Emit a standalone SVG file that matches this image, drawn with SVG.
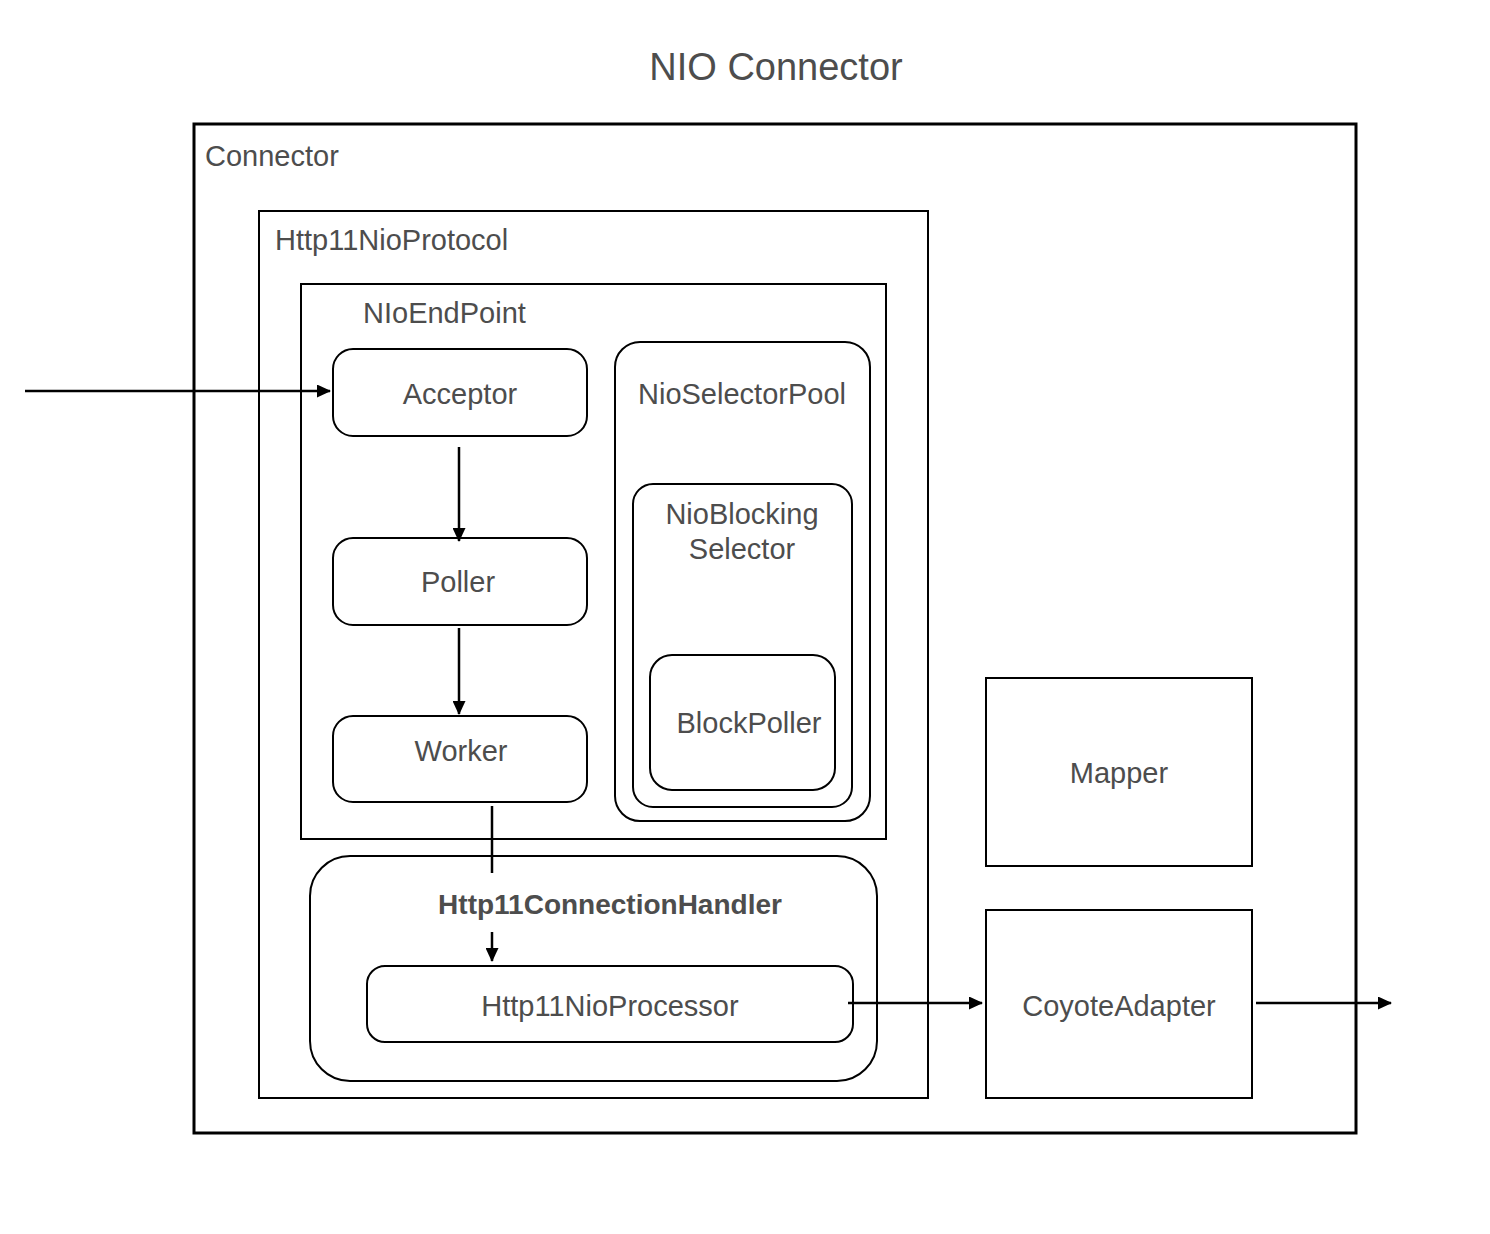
<svg xmlns="http://www.w3.org/2000/svg" width="1490" height="1234" viewBox="0 0 1490 1234">
<defs>
<marker id="arr" markerWidth="14" markerHeight="13" refX="13" refY="6.5" orient="auto" markerUnits="userSpaceOnUse" viewBox="0 0 14 13">
<path d="M0,0 L14,6.5 L0,13 Z" fill="#000"/>
</marker>
<style>
.box{fill:#fff;stroke:#000;stroke-width:2}
.thick{fill:#fff;stroke:#000;stroke-width:3}
.t{font-family:"Liberation Sans",Arial,sans-serif;font-size:29px;fill:#4d4d4d}
.c{text-anchor:middle}
.b{font-weight:bold;font-size:28px}
.edge{fill:none;stroke:#000;stroke-width:2.5}
</style>
</defs>
<rect x="0" y="0" width="1490" height="1234" fill="#fff"/>
<text class="t c" x="776" y="80" style="font-size:38px">NIO Connector</text>

<g id="connector">
<rect class="thick" x="194" y="124" width="1162" height="1009"/>
<text class="t" x="205" y="166">Connector</text>
</g>
<g id="http11nioprotocol">
<rect class="box" x="259" y="211" width="669" height="887"/>
<text class="t" x="275" y="250">Http11NioProtocol</text>
</g>
<g id="nioendpoint">
<rect class="box" x="301" y="284" width="585" height="555"/>
<text class="t" x="363" y="323">NIoEndPoint</text>
</g>
<g id="acceptor">
<rect class="box" x="333" y="349" width="254" height="87" rx="20"/>
<text class="t c" x="460" y="404">Acceptor</text>
</g>
<g id="poller">
<rect class="box" x="333" y="538" width="254" height="87" rx="20"/>
<text class="t c" x="458" y="592">Poller</text>
</g>
<g id="worker">
<rect class="box" x="333" y="716" width="254" height="86" rx="20"/>
<text class="t c" x="461" y="761">Worker</text>
</g>
<g id="nioselectorpool">
<rect class="box" x="615" y="342" width="255" height="479" rx="25"/>
<text class="t c" x="742" y="404">NioSelectorPool</text>
</g>
<g id="nioblockingselector">
<rect class="box" x="633" y="484" width="219" height="323" rx="20"/>
<text class="t c" x="742" y="524">NioBlocking</text>
<text class="t c" x="742" y="559">Selector</text>
</g>
<g id="blockpoller">
<rect class="box" x="650" y="655" width="185" height="135" rx="22"/>
<text class="t c" x="749" y="733">BlockPoller</text>
</g>
<g id="http11connectionhandler">
<rect class="box" x="310" y="856" width="567" height="225" rx="40"/>
<text class="t c b" x="610" y="914">Http11ConnectionHandler</text>
</g>
<g id="http11nioprocessor">
<rect class="box" x="367" y="966" width="486" height="76" rx="18"/>
<text class="t c" x="610" y="1016">Http11NioProcessor</text>
</g>
<g id="mapper">
<rect class="box" x="986" y="678" width="266" height="188"/>
<text class="t c" x="1119" y="783">Mapper</text>
</g>
<g id="coyoteadapter">
<rect class="box" x="986" y="910" width="266" height="188"/>
<text class="t c" x="1119" y="1016">CoyoteAdapter</text>
</g>

<g id="connectors">
<line class="edge" x1="25" y1="391" x2="330" y2="391" marker-end="url(#arr)"/>
<line class="edge" x1="459" y1="447" x2="459" y2="541" marker-end="url(#arr)"/>
<line class="edge" x1="459" y1="628" x2="459" y2="714" marker-end="url(#arr)"/>
<line class="edge" x1="492" y1="806" x2="492" y2="873"/>
<line class="edge" x1="492" y1="932" x2="492" y2="961" marker-end="url(#arr)"/>
<line class="edge" x1="848" y1="1003" x2="982" y2="1003" marker-end="url(#arr)"/>
<line class="edge" x1="1256" y1="1003" x2="1391" y2="1003" marker-end="url(#arr)"/>
</g>
</svg>
